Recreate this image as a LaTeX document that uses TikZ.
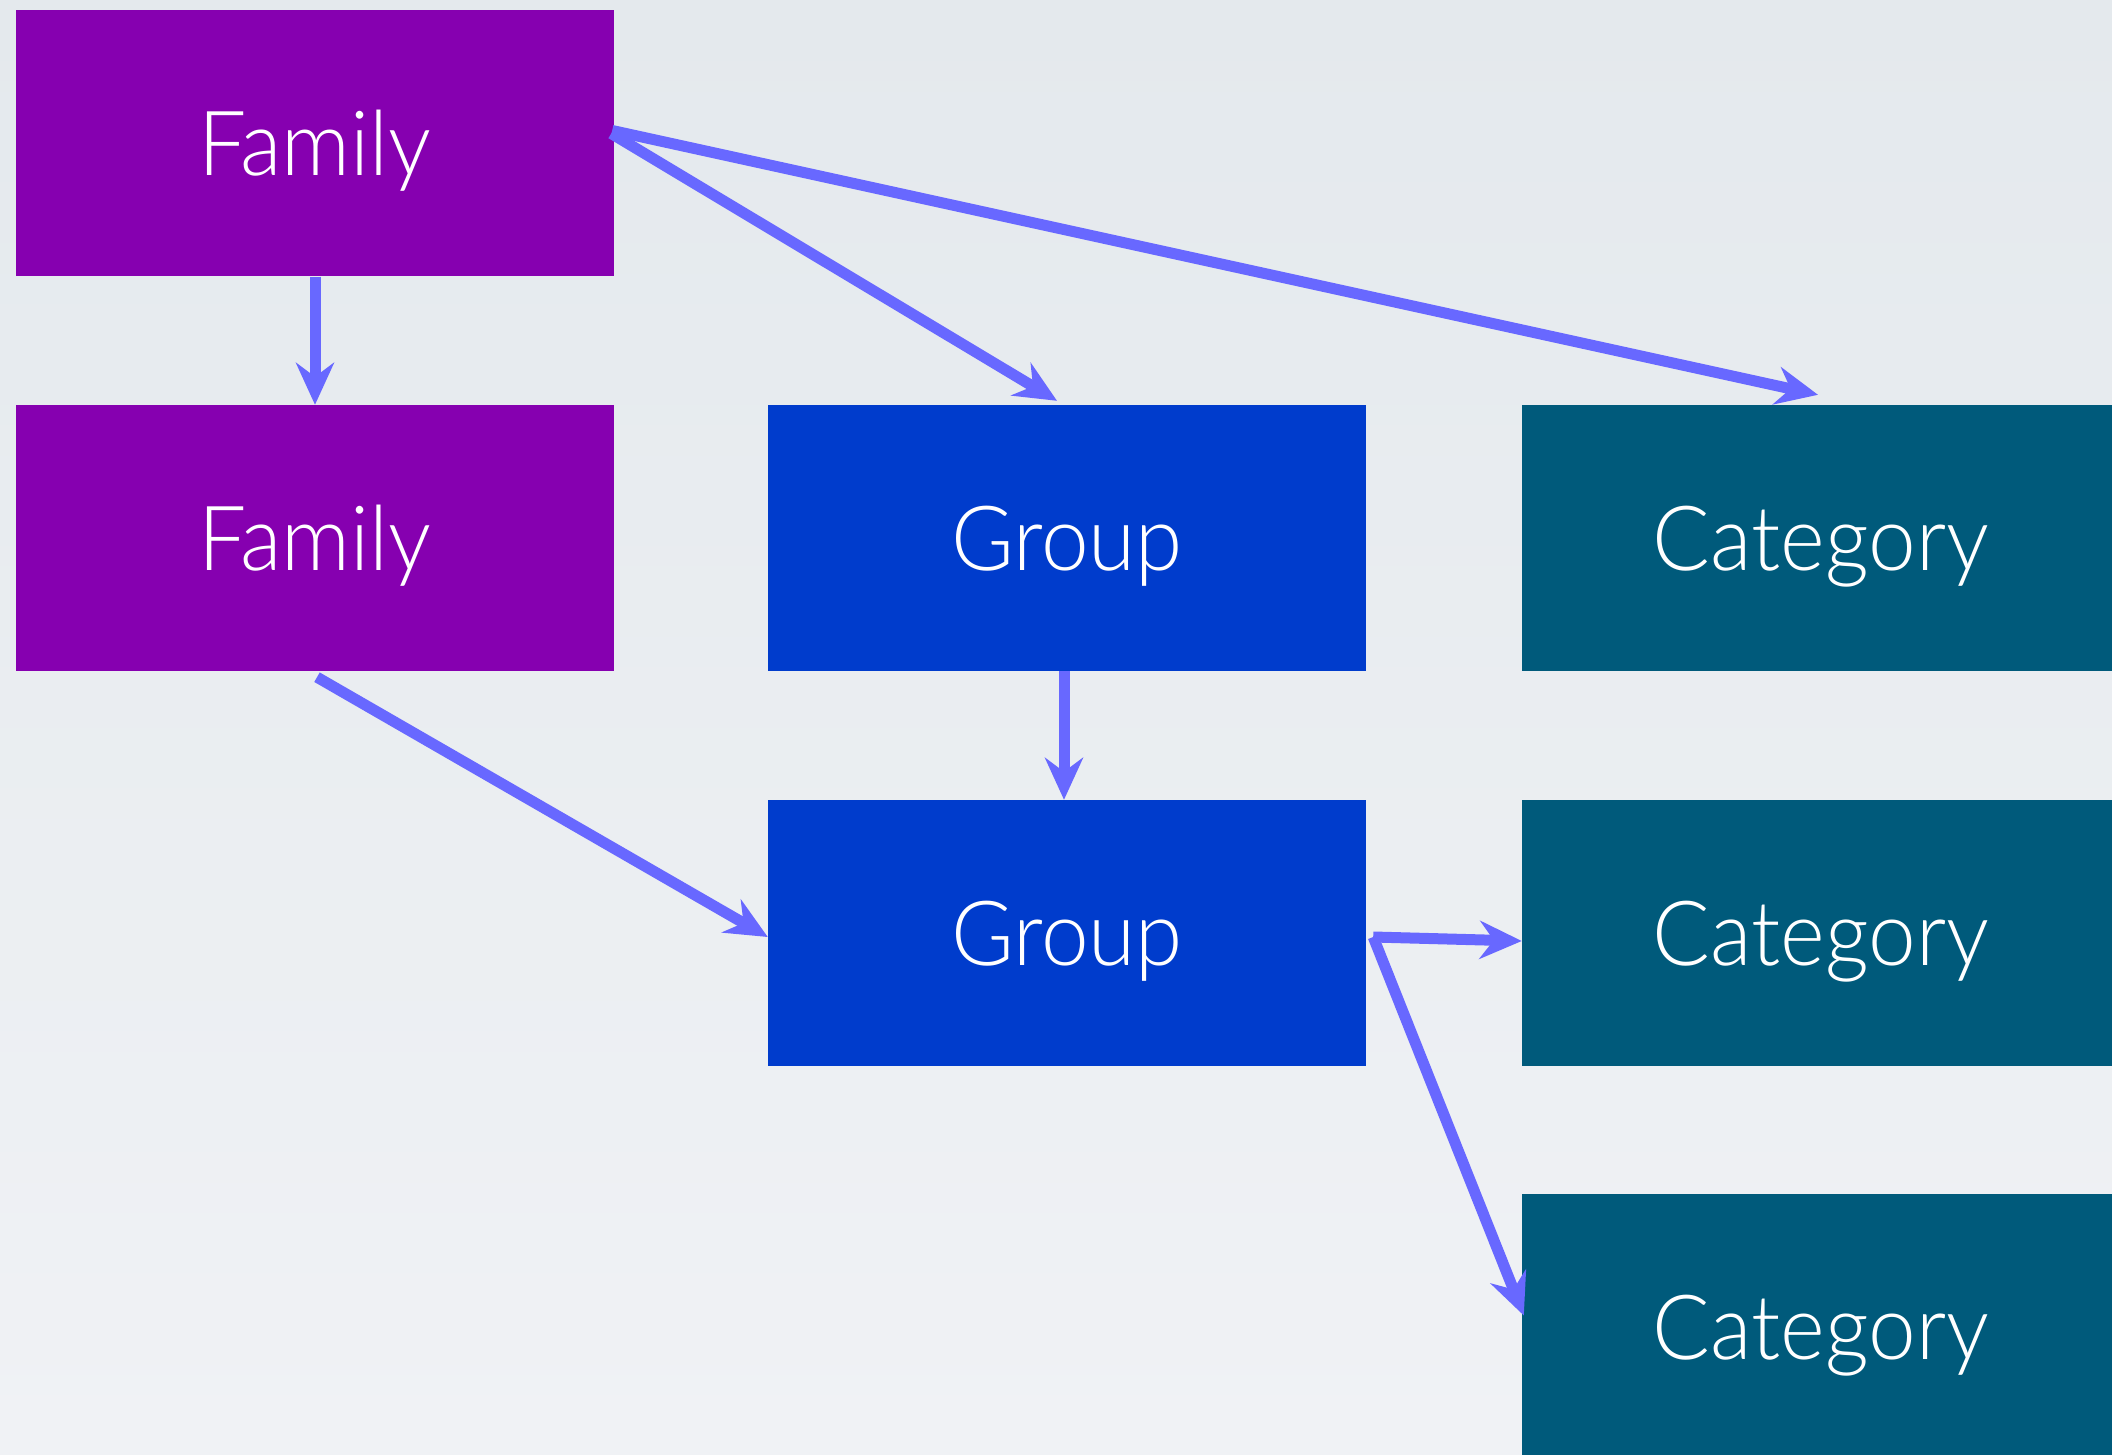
\documentclass[tikz,border=0pt]{standalone}
\usepackage{fontspec}
\newfontfamily\boxfont{Lato}[UprightFont={* Light}, FakeStretch=0.95]
\usetikzlibrary{arrows.meta,calc}
\definecolor{famcol}{HTML}{8600B0}
\definecolor{grpcol}{HTML}{003CCC}
\definecolor{catcol}{HTML}{005A7B}
\definecolor{linkcol}{HTML}{6868FF}
\definecolor{bgtop}{HTML}{E4E9ED}
\definecolor{bgbot}{HTML}{F0F2F5}
\begin{document}
\begin{tikzpicture}[x=1pt,y=-1pt,
  box/.style={draw=none, minimum width=598pt, minimum height=266pt,
    inner sep=0pt, text=white, text height=65pt, text depth=0pt,
    font=\boxfont\fontsize{90}{90}\selectfont},
  fam/.style={box, fill=famcol},
  grp/.style={box, fill=grpcol},
  cat/.style={box, fill=catcol},
  link/.style={draw=linkcol, line width=11pt,
    -{Stealth[length=42pt,width=38pt,inset=14pt]}}]
\useasboundingbox (0,0) rectangle (2112,1455);
\begin{scope}
\clip (0,0) rectangle (2112,1455);
\shade[top color=bgtop, bottom color=bgbot] (0,0) rectangle (2112,1455);

% boxes
\node[fam] (f1) at (315,143.5) {Family};
\node[fam] (f2) at (315,538) {Family};
\node[grp] (g1) at (1067,538) {Group};
\node[cat] (c1) at (1821,538) {Category};
\node[grp] (g2) at (1067,933) {Group};
\node[cat] (c2) at (1821,933) {Category};
\node[cat] (c3) at (1821,1326.5) {Category};

% connectors
\draw[link] (f1.south) -- (f2.north);
\draw[link] ($(f1.east)+(-3,-10)$) -- ($(g1.north)+(-10,-4)$);
\draw[link] ($(f1.east)+(-2,-13)$) -- ($(c1.north)+(-3,-10)$);
\draw[link] ($(f2.south)+(2,6)$) -- ($(g2.west)+(0,4)$);
\draw[link] ($(g1.south)+(-3,0)$) -- ($(g2.north)+(-3,0)$);
\draw[link] ($(g2.east)+(7,4)$) -- ($(c2.west)+(0,8)$);
\draw[link] ($(g2.east)+(7,4)$) -- ($(c3.west)+(2,-11)$);
\end{scope}
\end{tikzpicture}
\end{document}
